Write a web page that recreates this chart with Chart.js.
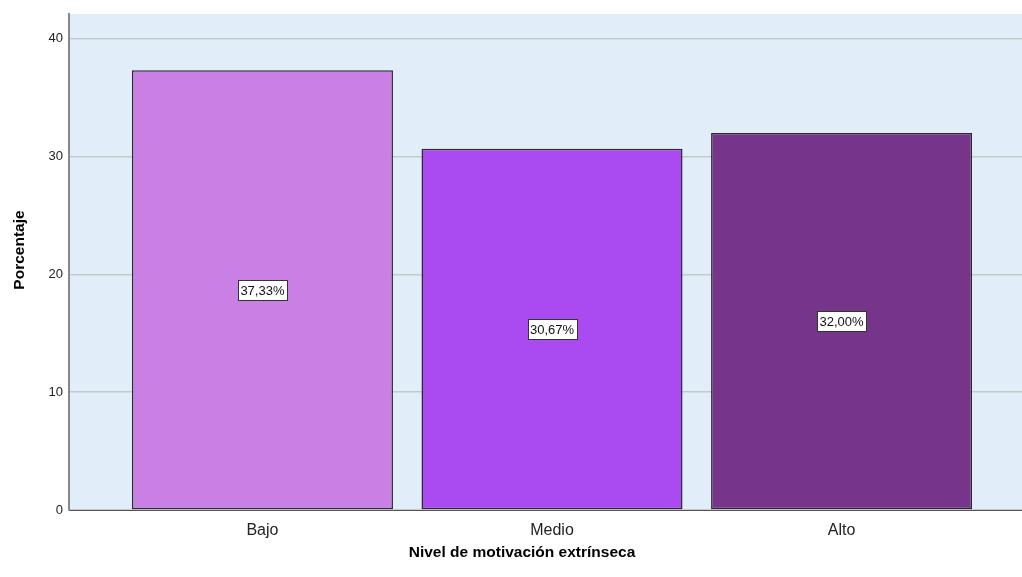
<!DOCTYPE html>
<html>
<head>
<meta charset="utf-8">
<script src="https://cdn.jsdelivr.net/npm/chart.js@4/dist/chart.umd.min.js"></script>
<style>
  html, body { margin: 0; padding: 0; background: #fff; }
  #wrap { width: 1022px; height: 577px; position: relative; }
</style>
</head>
<body>
<div id="wrap"><canvas id="barChart"></canvas></div>
<script>
// data
var categorias = ['Bajo', 'Medio', 'Alto'];
var porcentajes = [37.33, 30.67, 32.00];
var etiquetas = ['37,33%', '30,67%', '32,00%'];
var colores = ['#C97FE3', '#A94BF0', '#76358A'];
var yTicks = [0, 10, 20, 30, 40];
var tituloX = 'Nivel de motivación extrínseca';
var tituloY = 'Porcentaje';

var fontFam = '"Liberation Sans", Arial, sans-serif';

// light blue plot background
var plotBg = {
  id: 'plotBg',
  beforeDraw: function(chart) {
    var a = chart.chartArea, ctx = chart.ctx;
    ctx.save();
    ctx.fillStyle = '#E1EEFA';
    ctx.fillRect(a.left, a.top, a.right - a.left, a.bottom - a.top);
    ctx.restore();
  }
};

// boxed value labels in the middle of each bar
var boxLabels = {
  id: 'boxLabels',
  afterDatasetsDraw: function(chart) {
    var ctx = chart.ctx;
    var meta = chart.getDatasetMeta(0);
    var ys = chart.scales.y;
    ctx.save();
    ctx.font = '13px ' + fontFam;
    ctx.textAlign = 'center';
    ctx.textBaseline = 'middle';
    meta.data.forEach(function(bar, i) {
      var txt = etiquetas[i];
      var cx = bar.x;
      var cy = ys.getPixelForValue(porcentajes[i] / 2);
      var w = Math.round(ctx.measureText(txt).width + 5);
      var h = 20;
      var bx = Math.round(cx - w / 2) + 0.5, by = Math.round(cy - h / 2) + 0.5;
      ctx.fillStyle = '#ffffff';
      ctx.fillRect(bx, by, w, h);
      ctx.strokeStyle = '#333333';
      ctx.lineWidth = 1;
      ctx.strokeRect(bx, by, w, h);
      ctx.fillStyle = '#111111';
      ctx.fillText(txt, cx, cy + 1);
    });
    ctx.restore();
  }
};

// axis titles placed like the original
var axisTitles = {
  id: 'axisTitles',
  afterDraw: function(chart) {
    var ctx = chart.ctx;
    ctx.save();
    ctx.fillStyle = '#000';
    ctx.font = 'bold 15.5px ' + fontFam;
    ctx.textAlign = 'center';
    ctx.textBaseline = 'middle';
    ctx.fillText(tituloX, 522, 553);
    ctx.translate(20, 250);
    ctx.rotate(-Math.PI / 2);
    ctx.fillText(tituloY, 0, 0);
    ctx.restore();
  }
};

var ctx = document.getElementById('barChart').getContext('2d');
var myChart = new Chart(ctx, {
  type: 'bar',
  data: {
    datasets: [{
      data: porcentajes.map(function(v, i) { return { x: i, y: v }; }),
      backgroundColor: colores,
      borderColor: '#2a2a2a',
      borderWidth: 1.5,
      borderSkipped: false,
      barPercentage: 0.9015,
      categoryPercentage: 1
    }]
  },
  options: {
    responsive: true,
    maintainAspectRatio: false,
    animation: false,
    layout: { padding: { top: 14, right: 0, bottom: 0, left: 0 } },
    plugins: {
      legend: { display: false },
      tooltip: { enabled: false }
    },
    scales: {
      x: {
        type: 'linear',
        offset: false,
        min: -0.668,
        max: 2.623,
        afterBuildTicks: function(scale) {
          scale.ticks = categorias.map(function(c, i) { return { value: i }; });
        },
        afterFit: function(scale) { scale.height = 67; },
        grid: { display: false, drawTicks: false, offset: false },
        border: { display: true, color: '#555555', width: 1 },
        ticks: {
          padding: 11,
          color: '#222',
          font: { family: fontFam, size: 16 },
          callback: function(v) { return categorias[v]; }
        }
      },
      y: {
        min: 0,
        max: 42.1,
        afterBuildTicks: function(scale) {
          scale.ticks = yTicks.map(function(v) { return { value: v }; });
        },
        afterFit: function(scale) { scale.width = 69; },
        grid: { color: '#C6C9CC', lineWidth: 1.5, drawTicks: false },
        border: { display: true, color: '#888888', width: 2 },
        ticks: {
          padding: 6,
          color: '#222',
          font: { family: fontFam, size: 13 }
        }
      }
    }
  },
  plugins: [plotBg, boxLabels, axisTitles]
});
</script>
</body>
</html>
